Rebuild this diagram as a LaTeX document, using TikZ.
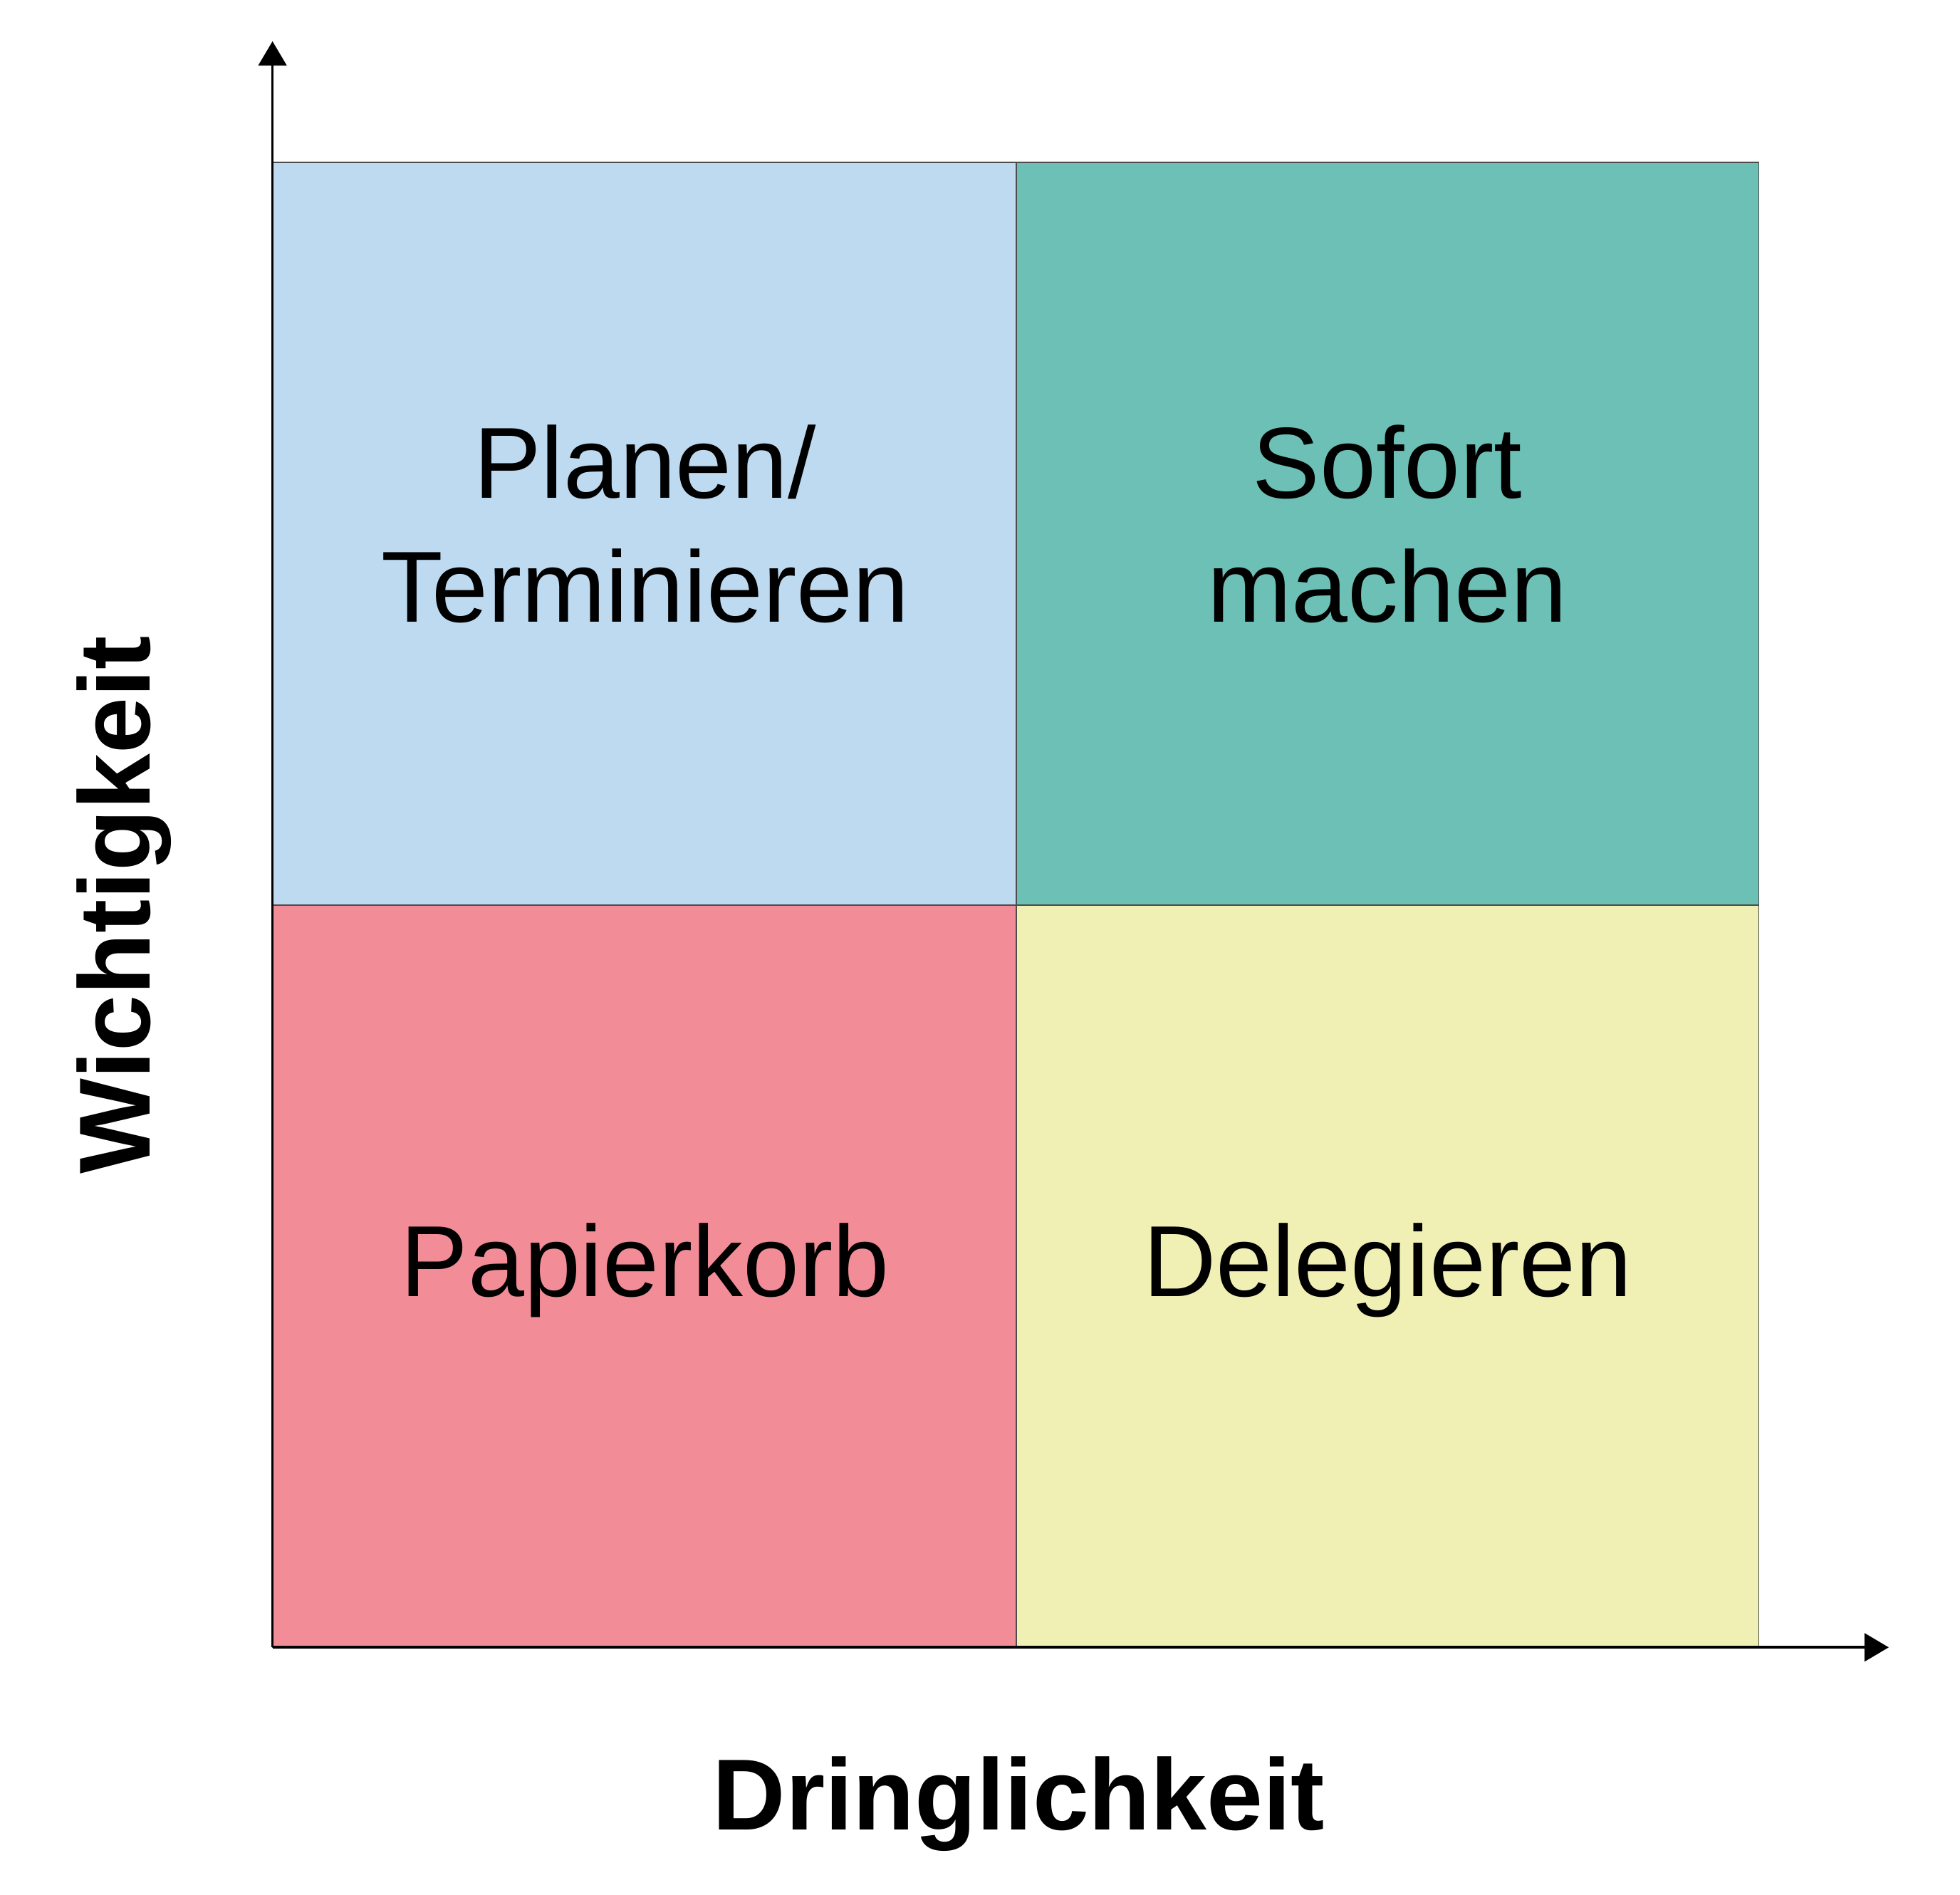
\documentclass[tikz,border=0pt]{standalone}
\usepackage{fontspec}
\setmainfont{Liberation Sans}
\usetikzlibrary{arrows.meta}
\definecolor{planBlue}{RGB}{190,218,240}
\definecolor{sofortTeal}{RGB}{108,192,181}
\definecolor{papierRed}{RGB}{242,140,150}
\definecolor{delegYellow}{RGB}{240,240,180}
\begin{document}
\begin{tikzpicture}[x=0.1mm, y=-0.1mm,
  quadlabel/.style={font=\fontsize{23}{28.2}\selectfont, align=center, inner sep=0pt},
  axislabel/.style={font=\fontsize{23}{28.2}\selectfont\bfseries, inner sep=0pt},
  axisline/.style={line width=0.6pt, -{Triangle[length=1.95mm,width=2.25mm]}}]
% Eisenhower matrix, coordinates in px of a 1568 x 1516 sketch
\providecommand{\eisGridLineColor}{black!70}
\providecommand{\eisGridLineWidth}{0.3pt}
\useasboundingbox (0,0) rectangle (1568,1516);
% Quadrants
\begin{scope}[draw=\eisGridLineColor, line width=\eisGridLineWidth]
  \filldraw[fill=planBlue] (218,130) rectangle (813,724);
  \filldraw[fill=sofortTeal] (813,130) rectangle (1407,724);
  \filldraw[fill=papierRed] (218,724) rectangle (813,1318);
  \filldraw[fill=delegYellow] (813,724) rectangle (1407,1318);
\end{scope}
% Quadrant labels
\node[quadlabel] (plan) at (516,419) {Planen/\\Terminieren};
\node[quadlabel] (sofort) at (1110,419) {Sofort\\machen};
\node[quadlabel, anchor=base] (papier) at (516,1037) {Papierkorb};
\node[quadlabel, anchor=base] (deleg) at (1110,1037) {Delegieren};
% Axes
\coordinate (origin) at (218,1318);
\coordinate (ytip) at (218,33);
\coordinate (xtip) at (1511,1318);
\draw[axisline] (origin) -- (ytip);
\draw[axisline] (origin) -- (xtip);
% Axis labels
\node[axislabel, anchor=base] (dring) at (815,1464) {Dringlichkeit};
\node[axislabel, anchor=base, rotate=90] (wicht) at (120,724) {Wichtigkeit};
\end{tikzpicture}
\end{document}
